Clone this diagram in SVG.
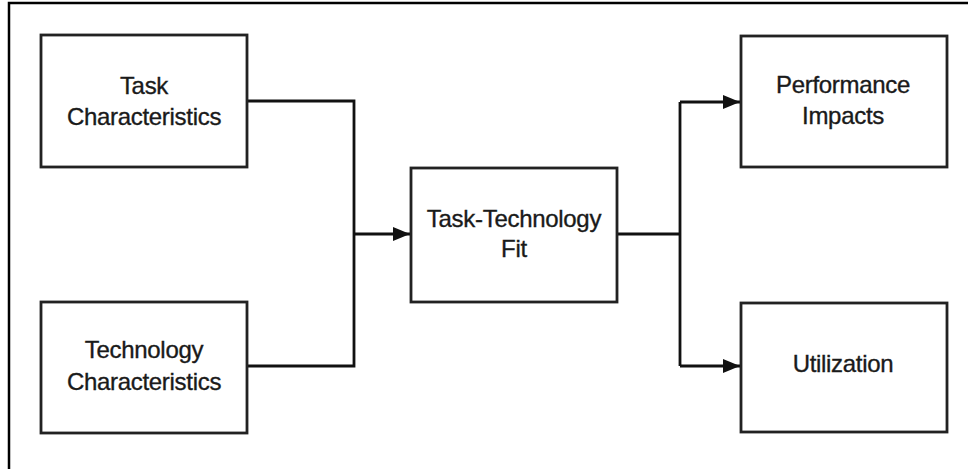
<svg xmlns="http://www.w3.org/2000/svg" width="968" height="469" viewBox="0 0 968 469">
  <style>
    .box { fill: #ffffff; stroke: #222222; stroke-width: 2.8; }
    .lbl { font-family: "Liberation Sans", Arial, sans-serif; font-size: 24px; fill: #1a1a1a; stroke: #1a1a1a; stroke-width: 0.35; text-anchor: middle; letter-spacing: -0.3px; }
    .conn { fill: none; stroke: #111111; stroke-width: 2.8; }
    .frame { fill: none; stroke: #000000; stroke-width: 2.5; }
  </style>
  <defs>
    <marker id="arrow" markerUnits="userSpaceOnUse" markerWidth="18" markerHeight="16" refX="17" refY="7.5" orient="auto">
      <polygon points="0,0.5 17,7.5 0,14.5" fill="#111111"/>
    </marker>
  </defs>
  <rect width="968" height="469" fill="#ffffff"/>
  <path class="frame" d="M9,469 L9,3 L968,3"/>

  <g id="connectors">
    <path class="conn" d="M247,101 H354 V366 H247"/>
    <path class="conn" d="M354,234 H410" marker-end="url(#arrow)"/>
    <path class="conn" d="M617,234 H680"/>
    <path class="conn" d="M680,102 V366"/>
    <path class="conn" d="M680,102 H740" marker-end="url(#arrow)"/>
    <path class="conn" d="M680,366 H740" marker-end="url(#arrow)"/>
  </g>

  <g id="task-characteristics">
    <rect class="box" x="41" y="35" width="206" height="132"/>
    <text class="lbl" x="144" y="94">Task</text>
    <text class="lbl" x="144" y="125">Characteristics</text>
  </g>

  <g id="technology-characteristics">
    <rect class="box" x="41" y="302" width="206" height="131"/>
    <text class="lbl" x="144" y="358">Technology</text>
    <text class="lbl" x="144" y="390">Characteristics</text>
  </g>

  <g id="task-technology-fit">
    <rect class="box" x="411" y="168" width="206" height="134"/>
    <text class="lbl" x="514" y="227">Task-Technology</text>
    <text class="lbl" x="514" y="257">Fit</text>
  </g>

  <g id="performance-impacts">
    <rect class="box" x="741" y="36" width="206" height="131"/>
    <text class="lbl" x="843" y="93">Performance</text>
    <text class="lbl" x="843" y="124">Impacts</text>
  </g>

  <g id="utilization">
    <rect class="box" x="741" y="303" width="206" height="129"/>
    <text class="lbl" x="843" y="372">Utilization</text>
  </g>
</svg>
